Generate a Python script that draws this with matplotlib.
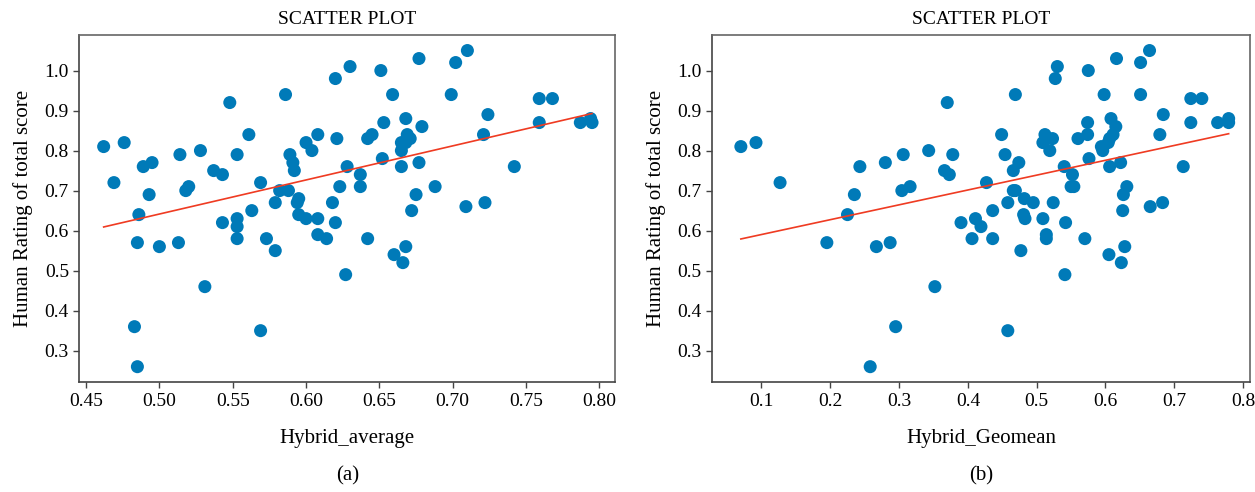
import matplotlib.pyplot as plt
import numpy as np

plt.rcParams['font.family'] = ['Liberation Serif', 'DejaVu Serif']

# panel (a): Hybrid_average vs human rating
avg_x = [0.462, 0.476, 0.469, 0.489, 0.495, 0.493, 0.486, 0.514, 0.528, 0.518,
         0.520, 0.548, 0.537, 0.543, 0.553, 0.561, 0.569, 0.586, 0.589, 0.591,
         0.592, 0.582, 0.588, 0.579, 0.595, 0.594, 0.595, 0.600, 0.608, 0.600,
         0.604, 0.608, 0.621, 0.620, 0.630, 0.623, 0.618, 0.628, 0.620, 0.543,
         0.553, 0.553, 0.563, 0.485, 0.500, 0.513, 0.531, 0.483, 0.485, 0.553,
         0.573, 0.579, 0.569, 0.608, 0.614, 0.627, 0.651, 0.677, 0.702, 0.710,
         0.659, 0.699, 0.759, 0.768, 0.724, 0.759, 0.787, 0.794, 0.795, 0.721,
         0.668, 0.653, 0.679, 0.642, 0.645, 0.669, 0.671, 0.665, 0.668, 0.665,
         0.652, 0.637, 0.637, 0.665, 0.677, 0.742, 0.688, 0.675, 0.672, 0.709,
         0.722, 0.642, 0.660, 0.668, 0.666]
avg_y = [0.81, 0.82, 0.72, 0.76, 0.77, 0.69, 0.64, 0.79, 0.80, 0.70,
         0.71, 0.92, 0.75, 0.74, 0.79, 0.84, 0.72, 0.94, 0.79, 0.77,
         0.75, 0.70, 0.70, 0.67, 0.68, 0.67, 0.64, 0.63, 0.63, 0.82,
         0.80, 0.84, 0.83, 0.98, 1.01, 0.71, 0.67, 0.76, 0.62, 0.62,
         0.63, 0.61, 0.65, 0.57, 0.56, 0.57, 0.46, 0.36, 0.26, 0.58,
         0.58, 0.55, 0.35, 0.59, 0.58, 0.49, 1.00, 1.03, 1.02, 1.05,
         0.94, 0.94, 0.93, 0.93, 0.89, 0.87, 0.87, 0.88, 0.87, 0.84,
         0.88, 0.87, 0.86, 0.83, 0.84, 0.84, 0.83, 0.82, 0.82, 0.80,
         0.78, 0.74, 0.71, 0.76, 0.77, 0.76, 0.71, 0.69, 0.65, 0.66,
         0.67, 0.58, 0.54, 0.56, 0.52]

# panel (b): Hybrid_Geomean vs human rating
geo_x = [0.070, 0.092, 0.127, 0.225, 0.235, 0.243, 0.280, 0.304, 0.316, 0.306,
         0.343, 0.370, 0.378, 0.366, 0.373, 0.390, 0.411, 0.419, 0.436, 0.427,
         0.458, 0.466, 0.469, 0.482, 0.495, 0.481, 0.483, 0.509, 0.524, 0.542,
         0.466, 0.474, 0.454, 0.449, 0.469, 0.527, 0.530, 0.575, 0.616, 0.651,
         0.664, 0.598, 0.651, 0.724, 0.740, 0.684, 0.724, 0.763, 0.779, 0.779,
         0.679, 0.512, 0.509, 0.523, 0.519, 0.560, 0.574, 0.574, 0.608, 0.615,
         0.611, 0.606, 0.604, 0.594, 0.596, 0.576, 0.540, 0.552, 0.550, 0.554,
         0.606, 0.622, 0.713, 0.631, 0.626, 0.625, 0.665, 0.683, 0.195, 0.267,
         0.287, 0.352, 0.295, 0.258, 0.406, 0.436, 0.477, 0.458, 0.514, 0.514,
         0.570, 0.541, 0.605, 0.628, 0.623]
geo_y = [0.81, 0.82, 0.72, 0.64, 0.69, 0.76, 0.77, 0.70, 0.71, 0.79,
         0.80, 0.92, 0.79, 0.75, 0.74, 0.62, 0.63, 0.61, 0.65, 0.72,
         0.67, 0.70, 0.70, 0.68, 0.67, 0.64, 0.63, 0.63, 0.67, 0.62,
         0.75, 0.77, 0.79, 0.84, 0.94, 0.98, 1.01, 1.00, 1.03, 1.02,
         1.05, 0.94, 0.94, 0.93, 0.93, 0.89, 0.87, 0.87, 0.88, 0.87,
         0.84, 0.84, 0.82, 0.83, 0.80, 0.83, 0.87, 0.84, 0.88, 0.86,
         0.84, 0.83, 0.82, 0.81, 0.80, 0.78, 0.76, 0.74, 0.71, 0.71,
         0.76, 0.77, 0.76, 0.71, 0.69, 0.65, 0.66, 0.67, 0.57, 0.56,
         0.57, 0.46, 0.36, 0.26, 0.58, 0.58, 0.55, 0.35, 0.59, 0.58,
         0.58, 0.49, 0.54, 0.56, 0.52]

avg_ticks = [0.45, 0.50, 0.55, 0.60, 0.65, 0.70, 0.75, 0.80]
geo_ticks = [0.1, 0.2, 0.3, 0.4, 0.5, 0.6, 0.7, 0.8]
y_ticks = [0.3, 0.4, 0.5, 0.6, 0.7, 0.8, 0.9, 1.0]

dot_color = '#007ab8'
line_color = '#ef3b22'


def draw(ax, x, y, xlabel, ticks, fmt, xlim, tag):
    x = np.array(x)
    y = np.array(y)
    ax.scatter(x, y, s=88, color=dot_color, edgecolors='none', zorder=2)
    k, b = np.polyfit(x, y, 1)
    xs = np.array([x.min(), x.max()])
    ax.plot(xs, k * xs + b, color=line_color, lw=1.2, zorder=3)
    ax.set_xlim(*xlim)
    ax.set_ylim(0.221, 1.089)
    ax.set_xticks(ticks)
    ax.set_xticklabels([fmt % t for t in ticks])
    ax.set_yticks(y_ticks)
    ax.set_yticklabels(['%.1f' % t for t in y_ticks])
    ax.tick_params(labelsize=14, length=4, width=1, color='#444444')
    for side in ['top', 'right']:
        ax.spines[side].set_color('#666666')
    for side in ['left', 'bottom']:
        ax.spines[side].set_color('#444444')
    for sp in ax.spines.values():
        sp.set_linewidth(1.2)
    ax.set_title('SCATTER PLOT', fontsize=14, pad=8)
    ax.set_xlabel(xlabel, fontsize=15, labelpad=14)
    ax.set_ylabel('Human Rating of total score', fontsize=15, labelpad=8)
    ax.text(0.5, -0.268, tag, transform=ax.transAxes, ha='center', va='center', fontsize=15)


fig = plt.figure(figsize=(12.55, 4.92), dpi=100)
ax1 = fig.add_axes([0.0632, 0.223, 0.4269, 0.706])
ax2 = fig.add_axes([0.5673, 0.223, 0.4287, 0.706])

draw(ax1, avg_x, avg_y, 'Hybrid_average', avg_ticks, '%.2f', (0.4454, 0.8107), '(a)')
draw(ax2, geo_x, geo_y, 'Hybrid_Geomean', geo_ticks, '%.1f', (0.028, 0.81), '(b)')

fig.savefig('out.png', dpi=100)
